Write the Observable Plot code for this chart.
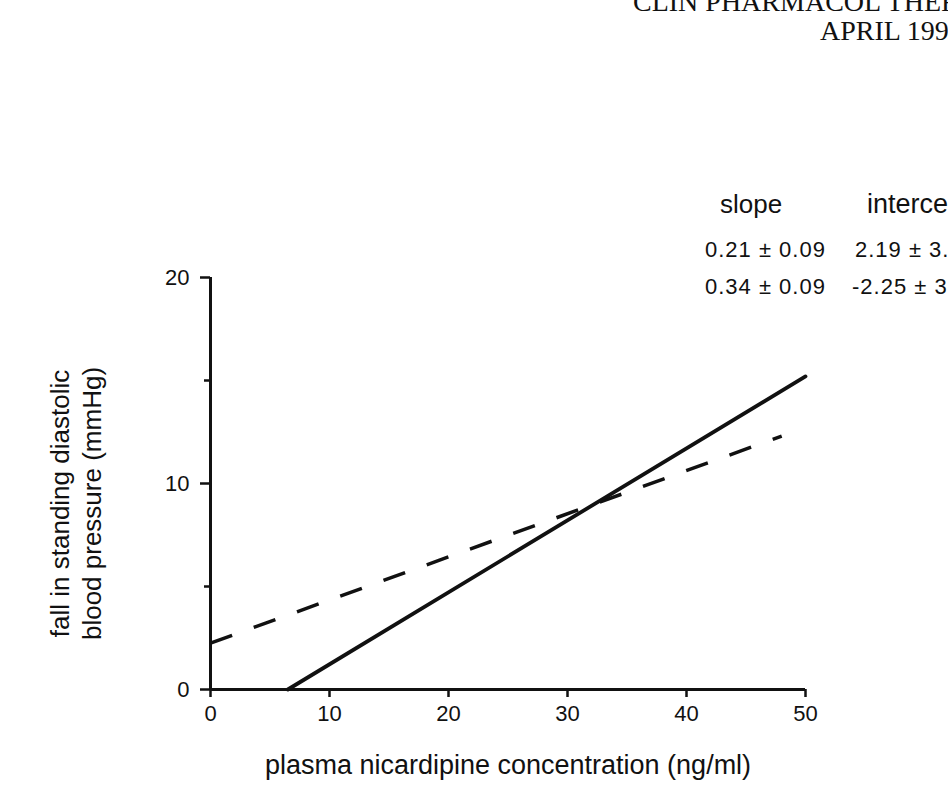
<!DOCTYPE html>
<html><head><meta charset="utf-8">
<script src="https://cdn.jsdelivr.net/npm/d3@7"></script>
<script src="https://cdn.jsdelivr.net/npm/@observablehq/plot@0.6"></script>
<style>
html,body{margin:0;padding:0;background:#fff;overflow:hidden;width:948px;height:807px}
#wrap{position:relative;width:948px;height:807px;overflow:hidden}
</style></head><body><div id="wrap"></div>
<script>
// ---- data ----
const headerLines = ["CLIN PHARMACOL THER", "APRIL 199"];
const legendColumns = ["slope", "intercept"];
const slopeText = ["0.21 \u00b1 0.09", "0.34 \u00b1 0.09"];
const interceptText = ["2.19 \u00b1 3.", "-2.25 \u00b1 3"];
const xTicks = [0, 10, 20, 30, 40, 50];
const yTicks = [0, 10, 20];
const yMinorTicks = [5, 15];
const dashedX = [0, 48];
const dashedY = [2.25, 12.3];
const solidX = [6.5, 50];
const solidY = [0, 15.2];
const xLabel = "plasma nicardipine concentration (ng/ml)";
const yLabel = "fall in standing diastolic\nblood pressure (mmHg)";

const ink = "#111";
const dashed = dashedX.map((x, i) => ({x, y: dashedY[i]}));
const solid = solidX.map((x, i) => ({x, y: solidY[i]}));

const chart = Plot.plot({
  width: 948,
  height: 807,
  marginLeft: 210,
  marginRight: 143,
  marginTop: 277,
  marginBottom: 118,
  x: {domain: [0, 50]},
  y: {domain: [0, 20]},
  style: {fontFamily: "'Liberation Sans', Arial, sans-serif", fontSize: "22px", color: ink, background: "#fff"},
  marks: [
    Plot.axisX(xTicks, {tickSize: 8, tickPadding: 8, strokeWidth: 2.5, label: null, stroke: ink, fill: ink}),
    Plot.axisY(yTicks, {tickSize: 10, tickPadding: 11, strokeWidth: 2.5, label: null, stroke: ink, fill: ink}),
    Plot.axisY(yMinorTicks, {tickSize: 6, text: null, strokeWidth: 2.5, label: null, stroke: ink}),
    Plot.ruleY([0], {strokeWidth: 3, stroke: ink}),
    Plot.ruleX([0], {strokeWidth: 3, stroke: ink}),
    Plot.line(dashed, {x: "x", y: "y", stroke: ink, strokeWidth: 3.5, strokeDasharray: "23 23", strokeLinecap: "butt"}),
    Plot.line(solid, {x: "x", y: "y", stroke: ink, strokeWidth: 3.8}),
    Plot.text([xLabel], {frameAnchor: "bottom", textAnchor: "middle", lineAnchor: "middle", dy: 76, fontSize: 27, fill: ink}),
    Plot.text([yLabel], {frameAnchor: "left", textAnchor: "middle", lineAnchor: "middle", dx: -136, dy: 20, rotate: -90, fontSize: 26, lineHeight: 1.23, fill: ink})
  ]
});
document.getElementById("wrap").appendChild(chart);

const svg = d3.select(chart);
const hdr = svg.append("g")
  .attr("font-family", "'Liberation Serif', 'DejaVu Serif', serif")
  .attr("font-size", 28).attr("text-anchor", "start").attr("fill", ink);
hdr.append("text").attr("x", 633).attr("y", 11).text(headerLines[0]);
hdr.append("text").attr("x", 820).attr("y", 40).text(headerLines[1]);

const leg = svg.append("g")
  .attr("font-family", "'Liberation Sans', Arial, sans-serif")
  .attr("text-anchor", "start").attr("fill", ink);
leg.append("text").attr("x", 720).attr("y", 213).attr("font-size", 26).text(legendColumns[0]);
leg.append("text").attr("x", 867).attr("y", 213).attr("font-size", 27).text(legendColumns[1]);
const rowY = [257, 294];
const slopeX = [705, 705];
const interX = [855, 852];
slopeText.forEach((t, i) => leg.append("text").attr("x", slopeX[i]).attr("y", rowY[i]).attr("font-size", 22).attr("letter-spacing", 1).text(t));
interceptText.forEach((t, i) => leg.append("text").attr("x", interX[i]).attr("y", rowY[i]).attr("font-size", 22).attr("letter-spacing", 1).text(t));
</script></body></html>
